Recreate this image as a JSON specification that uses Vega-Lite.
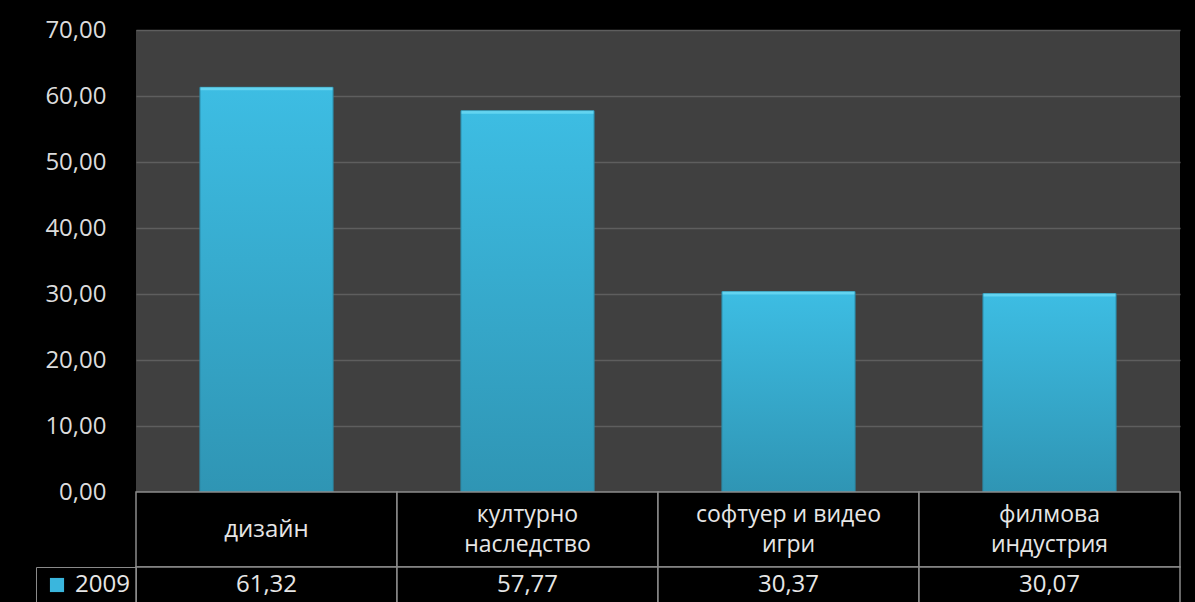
{
  "$schema": "https://vega.github.io/schema/vega-lite/v6.json",
  "background": "#000000",
  "padding": {"top": 18, "left": 35, "right": 16, "bottom": 0},
  "bounds": "flush",
  "spacing": 0,
  "config": {
    "locale": {"number": {"decimal": ",", "thousands": " ", "grouping": [3], "currency": ["", ""]}},
    "font": "Open Sans"
  },
  "data": {
    "values": [
      {"cat": "дизайн", "series": "2009", "value": 61.32},
      {"cat": "културно\nнаследство", "series": "2009", "value": 57.77},
      {"cat": "софтуер и видео\nигри", "series": "2009", "value": 30.37},
      {"cat": "филмова\nиндустрия", "series": "2009", "value": 30.07}
    ]
  },
  "vconcat": [
    {
      "width": 1044,
      "height": 462,
      "view": {"fill": "#404040", "stroke": null},
      "encoding": {
        "x": {"field": "cat", "type": "nominal", "sort": null, "scale": {"paddingInner": 0, "paddingOuter": 0}, "axis": null},
        "y": {"field": "value", "type": "quantitative", "scale": {"domain": [0, 70]},
          "axis": {"title": null, "values": [0, 10, 20, 30, 40, 50, 60, 70], "format": ".2f", "labelColor": "#dcdcdc", "labelFontSize": 24, "labelPadding": 30, "ticks": false, "domain": false, "gridColor": "#5e5e5e", "gridWidth": 1.5, "labelFont": "Open Sans"}}
      },
      "layer": [
        {
          "mark": {"type": "bar", "width": {"band": 0.51}},
          "encoding": {
            "color": {"field": "series", "type": "nominal", "scale": {"range": ["#3ab6dd"]},
              "legend": {"title": null, "orient": "none", "legendX": -100, "legendY": 537, "symbolType": "square", "symbolSize": 200, "symbolStrokeWidth": 0, "symbolOffset": 3, "labelOffset": 6, "labelColor": "#e6e6e6", "labelFontSize": 24, "labelFont": "Open Sans", "strokeColor": "#8a8a8a", "padding": 6}}
          }
        },
        {
          "mark": {"type": "bar", "width": {"band": 0.51}, "stroke": "#2c8aa6", "strokeWidth": 1,
            "color": {"gradient": "linear", "x1": 0, "y1": 0, "x2": 0, "y2": 1,
              "stops": [{"offset": 0, "color": "#3dbde3"}, {"offset": 1, "color": "#2f95b4"}]}}
        },
        {
          "mark": {"type": "tick", "thickness": 3, "size": 132, "color": "#74def6", "yOffset": 1.5}
        }
      ]
    },
    {
      "width": 1044,
      "height": 150,
      "view": {"stroke": null},
      "encoding": {
        "x": {"field": "cat", "type": "nominal", "sort": null, "scale": {"paddingInner": 0, "paddingOuter": 0}, "axis": null}
      },
      "layer": [
        {
          "mark": {"type": "rect", "fill": "#000000", "stroke": "#8a8a8a", "strokeWidth": 1.5},
          "encoding": {"y": {"datum": "cat", "type": "nominal", "scale": {"domain": ["cat", "val"], "paddingInner": 0, "paddingOuter": 0}, "axis": null}}
        },
        {
          "mark": {"type": "rect", "fill": "#000000", "stroke": "#8a8a8a", "strokeWidth": 1.5},
          "encoding": {"y": {"datum": "val", "type": "nominal"}}
        },
        {
          "transform": [{"filter": "indexof(datum.cat, '\\n') < 0"}],
          "mark": {"type": "text", "baseline": "middle", "fontSize": 24, "color": "#e6e6e6", "font": "Open Sans"},
          "encoding": {"y": {"datum": "cat", "type": "nominal"}, "text": {"field": "cat"}}
        },
        {
          "transform": [{"filter": "indexof(datum.cat, '\\n') >= 0"}],
          "mark": {"type": "text", "baseline": "middle", "lineBreak": "\n", "fontSize": 23, "lineHeight": 30, "dy": -15, "color": "#e6e6e6", "font": "Open Sans"},
          "encoding": {"y": {"datum": "cat", "type": "nominal"}, "text": {"field": "cat"}}
        },
        {
          "mark": {"type": "text", "baseline": "middle", "dy": 18, "fontSize": 24, "color": "#e6e6e6", "font": "Open Sans"},
          "encoding": {"y": {"datum": "val", "type": "nominal", "bandPosition": 0}, "text": {"field": "value", "type": "quantitative", "format": ".2f"}}
        }
      ]
    }
  ]
}
